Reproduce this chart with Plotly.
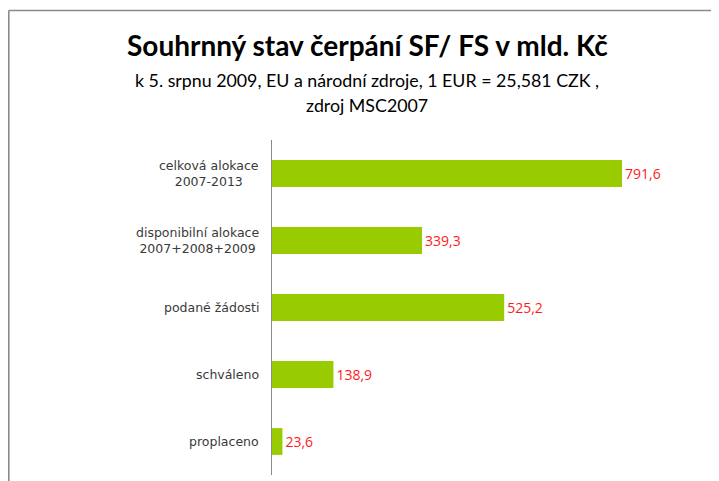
import plotly.graph_objects as go

categories = ["celková alokace<br>2007-2013",
              "disponibilní alokace<br>2007+2008+2009",
              "podané žádosti",
              "schváleno",
              "proplaceno"]
values = [791.6, 339.3, 525.2, 138.9, 23.6]
value_labels = [f"{v:.1f}".replace(".", ",") for v in values]

title = "Souhrnný stav čerpání SF/ FS v mld. Kč"
subtitle1 = "k 5. srpnu 2009, EU a národní zdroje, 1 EUR = 25,581 CZK ,"
subtitle2 = "zdroj MSC2007"

W, H = 719, 481
OFF = 8  # page body margin offset
x0, x1 = 272 - OFF, 700 - OFF
y_top, y_bot = 140 - OFF, 475 - OFF
xmax = 791.6 * (x1 - x0) / 350.0


def px(x):
    return (x - OFF) / W


def py(y):
    return 1 - (y - OFF) / H


fig = go.Figure()
fig.add_trace(go.Bar(
    x=values, y=categories, orientation="h",
    marker=dict(color="#99CC00", line=dict(width=0)),
    width=0.4,
    text=value_labels, textposition="outside",
    textfont=dict(color="#FF1A1A", size=14, family="Open Sans"),
    cliponaxis=False,
))

annotations = []
for c in categories:
    annotations.append(dict(
        x=px(261), xref="paper", y=c, yref="y",
        text=c, showarrow=False, xanchor="right", yanchor="middle",
        align="center",
        font=dict(family="DejaVu Sans", size=12.5, color="#3a3a3a"),
    ))
annotations.append(dict(
    x=px(367), xref="paper", y=py(45), yref="paper",
    text=f"<b>{title}</b>", showarrow=False, xanchor="center", yanchor="middle",
    font=dict(family="Lato", size=28, color="#000000"),
))
annotations.append(dict(
    x=px(367), xref="paper", y=py(80), yref="paper",
    text=subtitle1, showarrow=False, xanchor="center", yanchor="middle",
    font=dict(family="Lato", size=17.8, color="#000000"),
))
annotations.append(dict(
    x=px(367), xref="paper", y=py(105), yref="paper",
    text=subtitle2, showarrow=False, xanchor="center", yanchor="middle",
    font=dict(family="Lato", size=17.8, color="#000000"),
))

shapes = [
    dict(type="line", xref="paper", yref="paper",
         x0=px(8.8), x1=px(8.8), y0=-0.05, y1=py(10.5),
         line=dict(color="#8a8a8a", width=1.6)),
    dict(type="line", xref="paper", yref="paper",
         x0=px(8.8), x1=1.05, y0=py(10.5), y1=py(10.5),
         line=dict(color="#8a8a8a", width=1.6)),
]

fig.update_layout(
    width=W, height=H,
    margin=dict(l=0, r=0, t=0, b=0),
    paper_bgcolor="white", plot_bgcolor="white",
    showlegend=False,
    xaxis=dict(domain=[x0 / W, x1 / W], range=[0, xmax],
               showgrid=False, zeroline=False, showticklabels=False,
               showline=False, ticks=""),
    yaxis=dict(domain=[(H - y_bot) / H, (H - y_top) / H],
               type="category", range=[4.5, -0.5],
               showgrid=False, zeroline=False, showticklabels=False,
               showline=True, linecolor="#8a8a8a", linewidth=1.2, ticks=""),
    annotations=annotations,
    shapes=shapes,
)

fig.write_html("out.html")
